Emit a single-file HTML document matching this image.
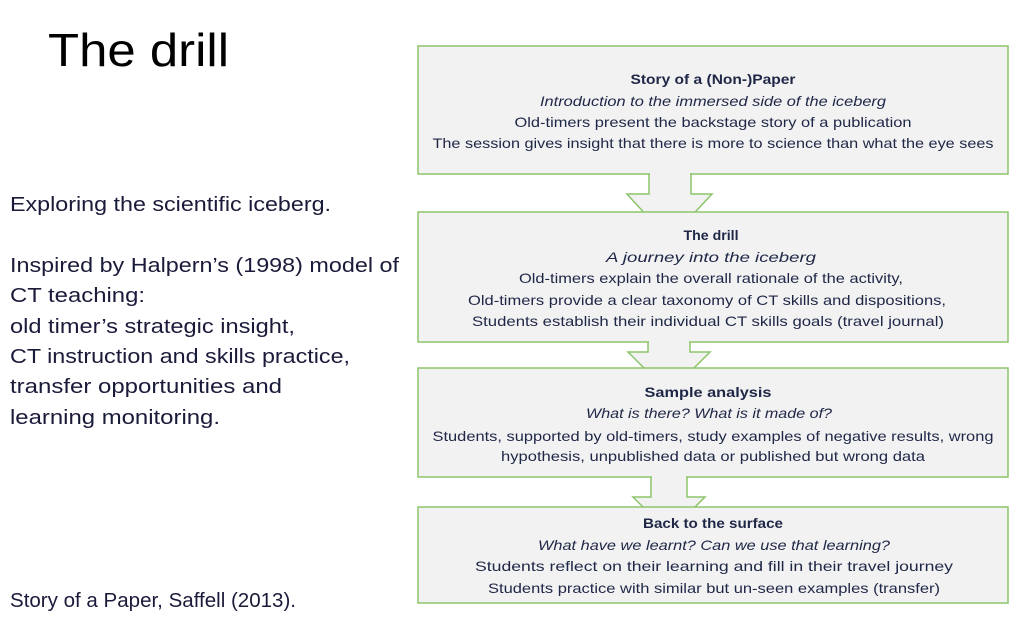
<!DOCTYPE html>
<html><head><meta charset="utf-8"><style>
html,body{margin:0;padding:0;background:#fff;}
svg{display:block}
text{font-family:"Liberation Sans",sans-serif;}
.b{font-size:20px;fill:#1a1a3a;}
.t{font-size:14px;fill:#1f2747;text-anchor:middle;}
.h{font-weight:bold;}
.i{font-style:italic;}
</style></head><body>
<svg width="1024" height="634" viewBox="0 0 1024 634" xmlns="http://www.w3.org/2000/svg">
<text x="48" y="66" font-size="46" fill="#000" textLength="181" lengthAdjust="spacingAndGlyphs">The drill</text>
<g class="b">
<text x="10" y="211" textLength="321" lengthAdjust="spacingAndGlyphs">Exploring the scientific iceberg.</text>
<text x="10" y="272" textLength="389" lengthAdjust="spacingAndGlyphs">Inspired by Halpern’s (1998) model of</text>
<text x="10" y="302" textLength="135" lengthAdjust="spacingAndGlyphs">CT teaching:</text>
<text x="10" y="333" textLength="285" lengthAdjust="spacingAndGlyphs">old timer’s strategic insight,</text>
<text x="10" y="363" textLength="340" lengthAdjust="spacingAndGlyphs">CT instruction and skills practice,</text>
<text x="10" y="393" textLength="272" lengthAdjust="spacingAndGlyphs">transfer opportunities and</text>
<text x="10" y="424" textLength="210" lengthAdjust="spacingAndGlyphs">learning monitoring.</text>
<text x="10" y="607" textLength="286" lengthAdjust="spacingAndGlyphs">Story of a Paper, Saffell (2013).</text>
</g>
<g fill="#f2f2f2" stroke="#8cc56a" stroke-width="1.5">
<polygon points="649,160 691,160 691,194 712,194 669,240 627,194 649,194"/>
<polygon points="648,330 690,330 690,352 710,352 669,393 628,352 648,352"/>
<polygon points="651,470 687,470 687,497 705,497 669,533 633,497 651,497"/>
<rect x="418" y="46" width="590" height="128"/>
<rect x="418" y="212" width="590" height="130"/>
<rect x="418" y="368" width="590" height="109"/>
<rect x="418" y="507" width="590" height="96"/>
</g>
<g fill="#f2f2f2">
<rect x="650" y="170" width="40" height="8"/>
<rect x="649" y="338" width="40" height="8"/>
<rect x="652" y="473" width="34" height="8"/>
</g>
<g class="t">
<text x="713" y="84" class="h" textLength="165" lengthAdjust="spacingAndGlyphs">Story of a (Non-)Paper</text>
<text x="713" y="106" class="i" textLength="346" lengthAdjust="spacingAndGlyphs">Introduction to the immersed side of the iceberg</text>
<text x="713" y="127" textLength="397" lengthAdjust="spacingAndGlyphs">Old-timers present the backstage story of a publication</text>
<text x="713" y="148" textLength="561" lengthAdjust="spacingAndGlyphs">The session gives insight that there is more to science than what the eye sees</text>
<text x="711" y="240" class="h" textLength="55" lengthAdjust="spacingAndGlyphs">The drill</text>
<text x="711" y="262" class="i" textLength="210" lengthAdjust="spacingAndGlyphs">A journey into the iceberg</text>
<text x="711" y="283" textLength="384" lengthAdjust="spacingAndGlyphs">Old-timers explain the overall rationale of the activity,</text>
<text x="707" y="305" textLength="478" lengthAdjust="spacingAndGlyphs">Old-timers provide a clear taxonomy of CT skills and dispositions,</text>
<text x="708" y="326" textLength="472" lengthAdjust="spacingAndGlyphs">Students establish their individual CT skills goals (travel journal)</text>
<text x="708" y="397" class="h" textLength="127" lengthAdjust="spacingAndGlyphs">Sample analysis</text>
<text x="709" y="418" class="i" textLength="246" lengthAdjust="spacingAndGlyphs">What is there? What is it made of?</text>
<text x="713" y="441" textLength="561" lengthAdjust="spacingAndGlyphs">Students, supported by old-timers, study examples of negative results, wrong</text>
<text x="713" y="461" textLength="424" lengthAdjust="spacingAndGlyphs">hypothesis, unpublished data or published but wrong data</text>
<text x="713" y="528" class="h" textLength="140" lengthAdjust="spacingAndGlyphs">Back to the surface</text>
<text x="714" y="550" class="i" textLength="352" lengthAdjust="spacingAndGlyphs">What have we learnt? Can we use that learning?</text>
<text x="714" y="571" textLength="478" lengthAdjust="spacingAndGlyphs">Students reflect on their learning and fill in their travel journey</text>
<text x="714" y="593" textLength="452" lengthAdjust="spacingAndGlyphs">Students practice with similar but un-seen examples (transfer)</text>
</g>
</svg>
</body></html>
